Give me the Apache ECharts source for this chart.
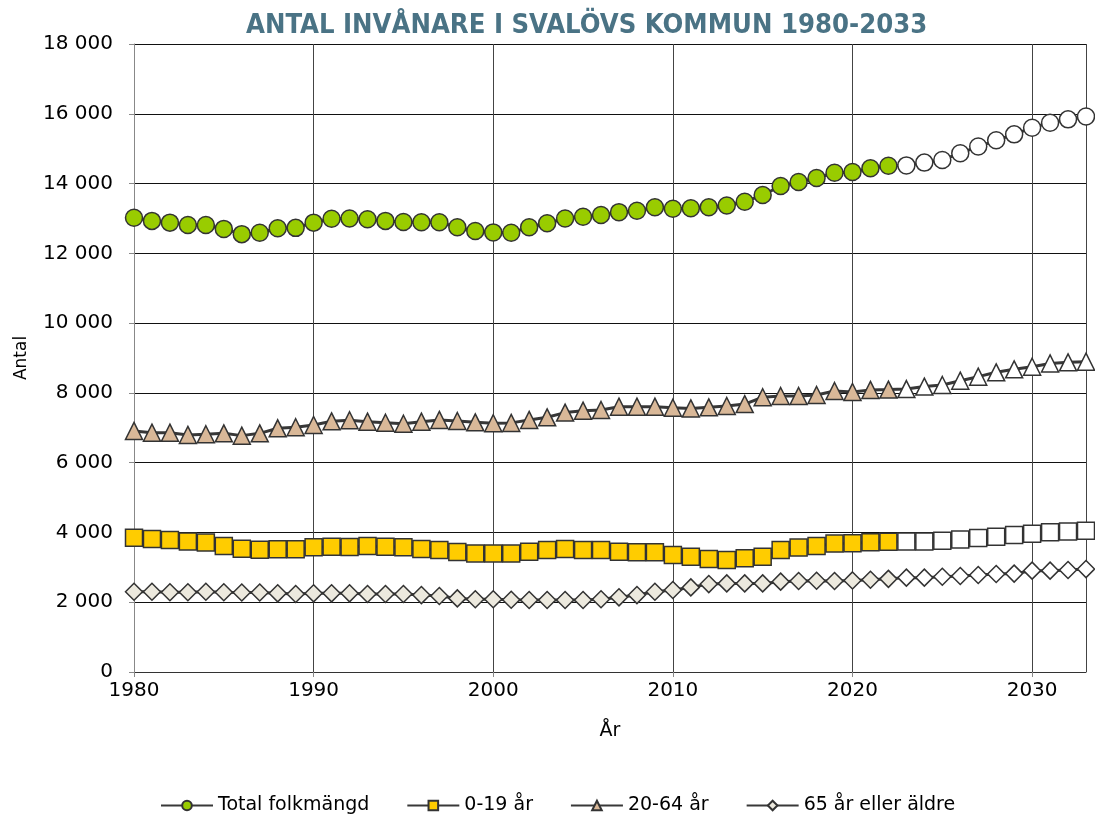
<!DOCTYPE html>
<html>
<head>
<meta charset="utf-8">
<script src="https://cdn.jsdelivr.net/npm/echarts@6/dist/echarts.min.js"></script>
<style>
  html, body { margin: 0; padding: 0; background: #fff; }
  #chart { width: 1095px; height: 814px; }
</style>
</head>
<body>
<div id="chart"></div>
<script>
// år 1980-2033, prognos från 2023
const firstYear = 1980;
const forecastFrom = 2023;
const total = [13020,12930,12880,12810,12810,12700,12550,12590,12720,12730,
  12880,12990,13000,12975,12930,12900,12890,12890,12750,12640,
  12600,12590,12750,12860,13000,13050,13100,13180,13220,13320,
  13280,13290,13320,13370,13480,13670,13930,14045,14160,14310,
  14330,14440,14510,14520,14600,14675,14870,15060,15240,15410,
  15600,15745,15840,15920];
const age0to19 = [3850,3810,3780,3740,3710,3610,3535,3505,3515,3515,
  3575,3590,3585,3610,3590,3575,3525,3495,3440,3400,
  3400,3395,3450,3495,3525,3500,3495,3450,3430,3430,
  3355,3305,3240,3210,3260,3305,3495,3565,3610,3680,
  3690,3720,3736,3740,3740,3765,3795,3840,3880,3925,
  3965,4005,4025,4050];
const age20to64 = [6910,6860,6860,6795,6815,6840,6775,6840,6985,7015,
  7080,7185,7215,7175,7145,7115,7175,7225,7195,7155,
  7130,7140,7225,7300,7435,7490,7510,7605,7605,7605,
  7575,7555,7585,7625,7680,7875,7910,7910,7940,8055,
  8025,8085,8095,8110,8180,8225,8350,8465,8590,8675,
  8750,8845,8875,8895];
const age65plus = [2300,2300,2285,2285,2300,2285,2280,2280,2255,2235,
  2255,2255,2255,2235,2235,2235,2205,2180,2110,2085,
  2085,2070,2065,2065,2065,2065,2085,2140,2205,2300,
  2350,2425,2520,2540,2540,2540,2590,2610,2615,2610,
  2625,2645,2670,2705,2705,2730,2750,2780,2810,2820,
  2905,2905,2925,2950];
const yTicks = [0, 2000, 4000, 6000, 8000, 10000, 12000, 14000, 16000, 18000];

const font = '"DejaVu Sans", Verdana, sans-serif';

const toPoints = (values) => values.map((v, i) => {
  const year = firstYear + i;
  const item = { value: [year, v] };
  if (year >= forecastFrom) item.itemStyle = { color: '#ffffff' };
  return item;
});

const makeSeries = (name, values, symbol, color) => ({
  name: name,
  type: 'line',
  data: toPoints(values),
  symbol: symbol,
  symbolSize: 17,
  showAllSymbol: true,
  lineStyle: { color: '#383838', width: 3 },
  itemStyle: { color: color, borderColor: '#333', borderWidth: 1.5 },
  emphasis: { disabled: true },
});

const chart = echarts.init(document.getElementById('chart'));
chart.setOption({
  animation: false,
  backgroundColor: '#fff',
  title: {
    text: 'ANTAL INVÅNARE I SVALÖVS KOMMUN 1980-2033',
    left: 241,
    top: 7,
    textStyle: {
      fontFamily: '"Liberation Sans Narrow", "DejaVu Sans Condensed", sans-serif',
      fontWeight: 'bold',
      fontSize: 27.2,
      color: '#4a7385',
    },
  },
  legend: {
    top: 791,
    left: 155,
    itemWidth: 52,
    itemHeight: 12,
    itemGap: 37,
    textStyle: { fontFamily: font, fontSize: 19, color: '#000' },
    data: ['Total folkmängd', '0-19 år', '20-64 år', '65 år eller äldre'],
  },
  grid: { left: 134, right: 9, top: 44, bottom: 142 },
  xAxis: {
    type: 'value',
    min: 1980,
    max: 2033,
    interval: 10,
    name: 'År',
    nameLocation: 'middle',
    nameGap: 50,
    nameTextStyle: { fontFamily: font, fontSize: 19, color: '#000' },
    axisLine: { lineStyle: { color: '#333' } },
    axisTick: { show: true, length: 5, lineStyle: { color: '#888' } },
    axisLabel: {
      fontFamily: font, fontSize: 20, color: '#000', margin: 9,
      showMaxLabel: false,
      formatter: (v) => String(v),
    },
    splitLine: { show: true, lineStyle: { color: '#444', width: 1 } },
  },
  yAxis: {
    type: 'value',
    min: 0,
    max: 18000,
    interval: 2000,
    name: 'Antal',
    nameLocation: 'middle',
    nameGap: 104,
    nameTextStyle: { fontFamily: font, fontSize: 17, color: '#000' },
    axisLine: { show: true, lineStyle: { color: '#888' } },
    axisTick: { show: true, length: 5, lineStyle: { color: '#888' } },
    axisLabel: {
      fontFamily: font, fontSize: 20, color: '#000', margin: 21,
      formatter: (v) => yTicks.includes(v) ? String(v).replace(/\B(?=(\d{3})+(?!\d))/g, ' ') : '',
    },
    splitLine: { show: true, lineStyle: { color: '#111', width: 1 } },
  },
  series: [
    makeSeries('Total folkmängd', total, 'circle', '#99cc00'),
    makeSeries('0-19 år', age0to19, 'rect', '#ffcc00'),
    makeSeries('20-64 år', age20to64, 'triangle', '#d9b898'),
    makeSeries('65 år eller äldre', age65plus, 'diamond', '#ece9de'),
  ],
});
</script>
</body>
</html>
